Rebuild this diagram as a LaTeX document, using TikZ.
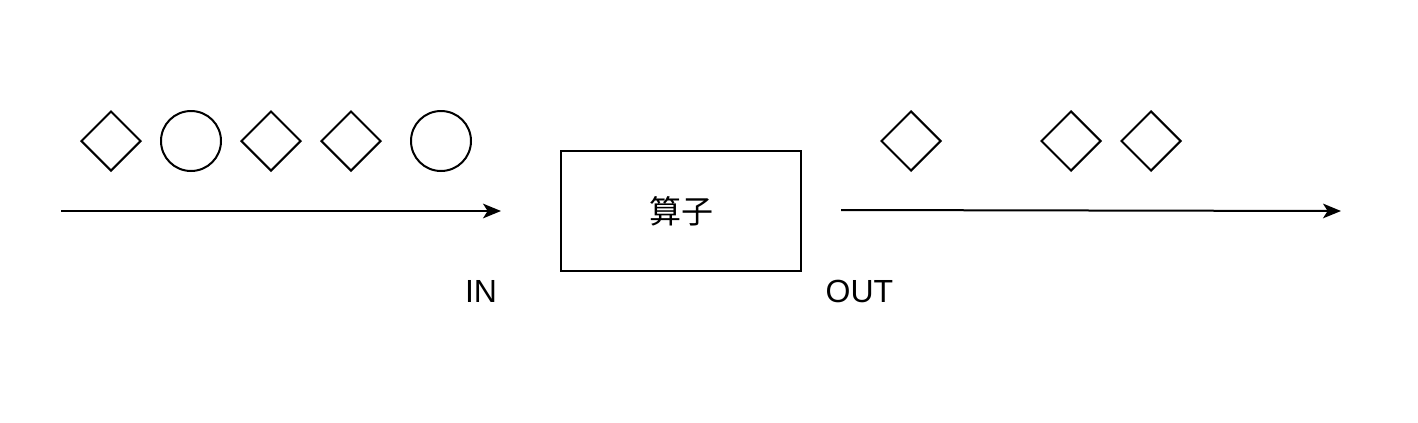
\documentclass[tikz,border=0pt]{standalone}
\usepackage{fontspec}
\setmainfont{Liberation Sans}
\newfontfamily\cjk{Noto Sans CJK SC}
\usetikzlibrary{shapes.geometric,arrows.meta}
\begin{document}
\begin{tikzpicture}[x=0.75pt,y=-0.75pt,
  shp/.style={draw=black,line width=1.5pt,inner sep=0pt},
  dia/.style={shp,diamond,minimum width=45pt,minimum height=45pt},
  circ/.style={shp,circle,minimum size=45pt},
  opbox/.style={shp,rectangle,minimum width=180pt,minimum height=90pt,font=\cjk\fontsize{24pt}{28pt}\selectfont},
  lbl/.style={inner sep=0pt,font=\fontsize{24pt}{28pt}\selectfont,anchor=base},
  flow/.style={line width=1.5pt,-{Stealth[length=13.5pt,width=11pt,inset=3.5pt]}}]
\useasboundingbox (0,0) rectangle (1418,422);
\node[dia] (d1) at (111,141) {};
\node[circ] (c1) at (191,141) {};
\node[dia] (d2) at (271,141) {};
\node[dia] (d3) at (351,141) {};
\node[circ] (c2) at (441,141) {};
\node[opbox] (op) at (681,211) {算子};
\node[lbl] (in) at (481,302) {IN};
\node[lbl] (out) at (859.5,302) {OUT};
\node[dia] (d4) at (911,141) {};
\node[dia] (d5) at (1071,141) {};
\node[dia] (d6) at (1151,141) {};
\coordinate (a0) at (61,211);
\coordinate (a1) at (501,211);
\coordinate (b0) at (841,210);
\coordinate (b1) at (1341,211);
\draw[flow] (a0) -- (a1);
\draw[flow] (b0) -- (b1);
\end{tikzpicture}
\end{document}
